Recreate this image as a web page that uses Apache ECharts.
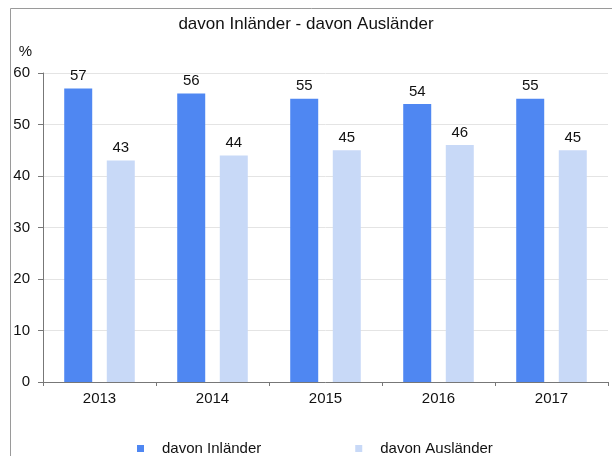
<!DOCTYPE html>
<html lang="de">
<head>
    <meta charset="utf-8">
    <title>davon Inländer - davon Ausländer</title>
    <script src="https://cdn.jsdelivr.net/npm/echarts@6/dist/echarts.min.js"></script>
    <style>
        html, body { margin: 0; padding: 0; background: #fff; }
        #main { width: 612px; height: 456px; }
    </style>
</head>
<body>
    <div id="main"></div>
    <script type="text/javascript">
    // Daten
    var jahre = ['2013', '2014', '2015', '2016', '2017'];
    var inlaender = [57, 56, 55, 54, 55];
    var auslaender = [43, 44, 45, 46, 45];

    var schrift = 'Liberation Sans, Arial, sans-serif';

    var myChart = echarts.init(document.getElementById('main'));

    myChart.setOption({
        animation: false,
        textStyle: { fontFamily: schrift },
        title: {
            text: 'davon Inländer - davon Ausländer',
            left: 'center',
            top: 11,
            textStyle: { fontSize: 17, fontWeight: 'normal', color: '#111', fontFamily: schrift }
        },
        // Rahmen links und oben
        graphic: [{
            type: 'rect',
            shape: { x: 10.5, y: 8.5, width: 700, height: 600 },
            style: { fill: 'none', stroke: '#9a9a9a', lineWidth: 1 },
            silent: true
        }],
        legend: {
            data: ['davon Inländer', 'davon Ausländer'],
            left: 132,
            top: 436,
            itemWidth: 7,
            itemHeight: 7,
            itemGap: 94,
            icon: 'rect',
            textStyle: { fontSize: 15, color: '#111', padding: [0, 0, 0, 13], fontFamily: schrift }
        },
        grid: {
            left: 43,
            right: 4,
            top: 73,
            bottom: 74,
            containLabel: false
        },
        xAxis: {
            type: 'category',
            data: jahre,
            axisLine: { lineStyle: { color: '#777' } },
            axisTick: { show: true, length: 4, lineStyle: { color: '#777' } },
            axisLabel: { color: '#111', fontSize: 15, margin: 9, fontFamily: schrift }
        },
        yAxis: {
            type: 'value',
            min: 0,
            max: 60,
            interval: 10,
            name: '%',
            nameLocation: 'end',
            nameGap: 14,
            nameTextStyle: { color: '#111', fontSize: 15, align: 'right', padding: [0, 11, 0, 0], fontFamily: schrift },
            axisLine: { show: true, lineStyle: { color: '#777' } },
            axisTick: { show: true, length: 5, lineStyle: { color: '#777' } },
            axisLabel: { color: '#111', fontSize: 15, margin: 13, fontFamily: schrift },
            splitLine: { lineStyle: { color: '#e4e4e4' } }
        },
        series: [{
            name: 'davon Inländer',
            type: 'bar',
            data: inlaender,
            barWidth: 28,
            barGap: '52%',
            itemStyle: { color: '#4f87f2' },
            label: { show: true, position: 'top', distance: 5, color: '#111', fontSize: 15, fontFamily: schrift }
        }, {
            name: 'davon Ausländer',
            type: 'bar',
            data: auslaender,
            barWidth: 28,
            itemStyle: { color: '#c8d9f7' },
            label: { show: true, position: 'top', distance: 5, color: '#111', fontSize: 15, fontFamily: schrift }
        }]
    });
    </script>
</body>
</html>
